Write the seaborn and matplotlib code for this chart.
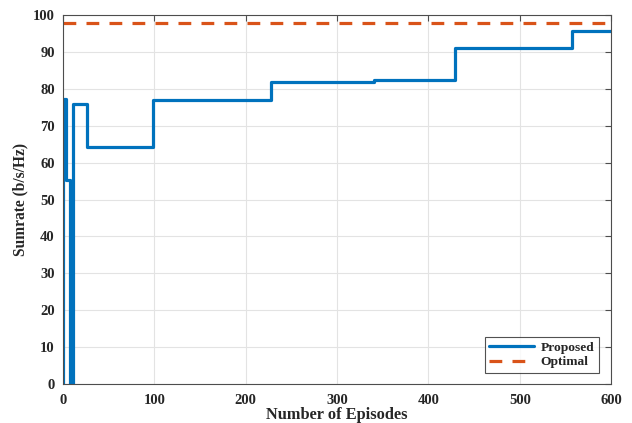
import matplotlib
matplotlib.use("Agg")
import matplotlib.pyplot as plt
import seaborn as sns
import pandas as pd

# Episode indices where the achieved sum-rate changes, and the level held from there on
episodes = [0, 0.5, 3, 7.5, 11, 26, 99, 228, 340, 429, 557, 600]
sumrate = [0, 77.2, 55.3, 0, 76.0, 64.2, 77.0, 81.9, 82.5, 91.0, 95.6, 95.6]
optimal_value = 97.8
x_ticks = [0, 100, 200, 300, 400, 500, 600]
y_ticks = list(range(0, 101, 10))

sns.set_theme(style="white")
plt.rcParams["font.family"] = ["Liberation Serif", "DejaVu Serif"]
plt.rcParams["font.weight"] = "bold"

df = pd.DataFrame({"Episode": episodes, "Sumrate": sumrate})
opt = pd.DataFrame({"Episode": [0, 600], "Sumrate": [optimal_value, optimal_value]})

fig = plt.figure(figsize=(6.32, 4.23), dpi=100)
ax = fig.add_axes([0.0997, 0.092, 0.8673, 0.8725])

sns.lineplot(data=df, x="Episode", y="Sumrate", ax=ax, color="#0072BD",
             linewidth=2.3, drawstyle="steps-post", sort=False, estimator=None,
             label="Proposed")
sns.lineplot(data=opt, x="Episode", y="Sumrate", ax=ax, color="#D95319",
             linewidth=2.3, linestyle=(0, (4, 3.2)), sort=False, estimator=None,
             label="Optimal")

ax.set_xlim(0, 600)
ax.set_ylim(0, 100)
ax.set_xticks(x_ticks)
ax.set_yticks(y_ticks)
ax.grid(True, color="#e3e3e3", linewidth=0.8)
for s in ax.spines.values():
    s.set_color("#4d4d4d")
    s.set_linewidth(0.8)
ax.tick_params(direction="in", length=4, width=0.8, color="#4d4d4d",
               top=True, right=True, labelsize=10.5, labelcolor="#262626")
ax.tick_params(axis="x", pad=7)
ax.tick_params(axis="y", pad=6)
for lbl in ax.get_xticklabels() + ax.get_yticklabels():
    lbl.set_fontweight("bold")

ax.set_xlabel("Number of Episodes", fontsize=11.8, fontweight="bold",
              color="#262626", labelpad=0)
ax.set_ylabel("Sumrate (b/s/Hz)", fontsize=11.2, fontweight="bold",
              color="#262626", labelpad=3)

leg = ax.legend(loc="lower right", bbox_to_anchor=(0.978, 0.030),
                prop={"weight": "bold", "size": 9.7}, frameon=True,
                fancybox=False, handlelength=3.3, borderpad=0.35,
                labelspacing=0.15, handletextpad=0.5, borderaxespad=0)
leg.get_frame().set_edgecolor("#262626")
leg.get_frame().set_linewidth(0.8)

fig.savefig("out.png", dpi=100)
